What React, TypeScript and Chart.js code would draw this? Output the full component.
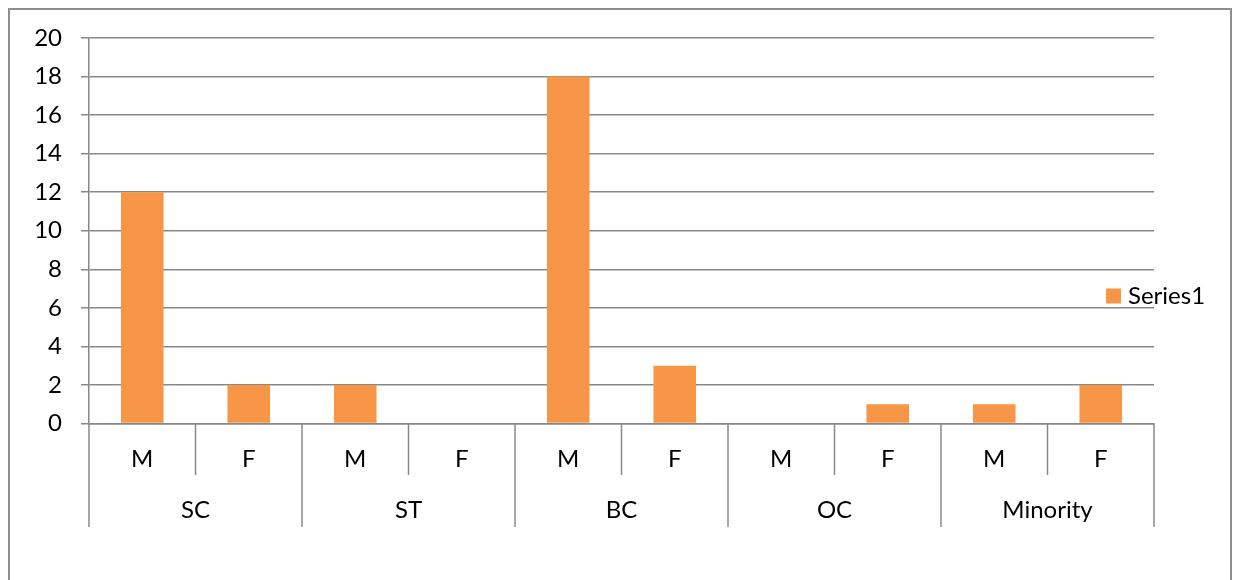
import React, { useEffect, useRef } from "react";
import { Chart, registerables } from "chart.js";

Chart.register(...registerables);

const groups = ["SC", "ST", "BC", "OC", "Minority"];
const subLabels = ["M", "F", "M", "F", "M", "F", "M", "F", "M", "F"];
const series1 = [12, 2, 2, 0, 18, 3, 0, 1, 1, 2];
const yTicks = [0, 2, 4, 6, 8, 10, 12, 14, 16, 18, 20];

const FONT = "Lato, 'Open Sans', sans-serif";
const FSIZE = 24;
const GRID = "#888888";
const BAR = "#F79646";
const W = 1220;
const H = 570;

const multiLevelPlugin = {
  id: "multiLevel",
  afterDraw(chart: any) {
    const x = chart.scales.x;
    const ctx = chart.ctx;
    const top = chart.chartArea.bottom;
    const half = (x.getPixelForValue(1) - x.getPixelForValue(0)) / 2;
    ctx.save();
    ctx.strokeStyle = GRID;
    ctx.lineWidth = 1.5;
    for (let i = 0; i <= subLabels.length; i++) {
      const px = x.getPixelForValue(i) - half;
      const bottom = i % 2 === 0 ? top + 103.5 : top + 51.5;
      ctx.beginPath();
      ctx.moveTo(px, top);
      ctx.lineTo(px, bottom);
      ctx.stroke();
    }
    ctx.fillStyle = "#000000";
    ctx.font = `${FSIZE}px ${FONT}`;
    ctx.textAlign = "center";
    ctx.textBaseline = "middle";
    groups.forEach((g, gi) => {
      const cx = (x.getPixelForValue(gi * 2) + x.getPixelForValue(gi * 2 + 1)) / 2;
      ctx.fillText(g, cx, top + 86.5);
    });
    const ds = chart.data.datasets[0];
    const lx = chart.width - 124;
    const ly = 286;
    ctx.fillStyle = ds.backgroundColor;
    ctx.fillRect(lx, ly - 7.5, 15, 15);
    ctx.fillStyle = "#000000";
    ctx.textAlign = "left";
    ctx.fillText(ds.label, lx + 22, ly);
    ctx.restore();
  },
};

export default function App() {
  const ref = useRef<HTMLCanvasElement | null>(null);
  useEffect(() => {
    if (!ref.current) return;
    const chart = new Chart(ref.current, {
      type: "bar",
      data: {
        labels: subLabels,
        datasets: [
          {
            label: "Series1",
            data: series1,
            backgroundColor: BAR,
            borderWidth: 0,
            categoryPercentage: 1,
            barPercentage: 0.4,
          },
        ],
      },
      options: {
        animation: false,
        responsive: false,
        maintainAspectRatio: false,
        layout: { padding: { top: 28, right: 76, left: 0, bottom: 0 } },
        plugins: { legend: { display: false }, tooltip: { enabled: false } },
        scales: {
          x: {
            type: "category",
            grid: { display: true, drawOnChartArea: false, drawTicks: false, color: GRID, lineWidth: 1.5 },
            border: { display: true, color: GRID, width: 1.5 },
            ticks: {
              color: "#000000",
              font: { family: FONT, size: FSIZE, lineHeight: 1.2 },
              padding: 21.1,
              maxRotation: 0,
              autoSkip: false,
            },
            afterFit(scale: any) {
              scale.height = 156.5;
              scale.paddingLeft = 0;
              scale.paddingRight = 0;
            },
          },
          y: {
            min: 0,
            max: 20,
            afterBuildTicks(scale: any) {
              scale.ticks = yTicks.map((v) => ({ value: v }));
            },
            grid: { color: GRID, lineWidth: 1.5, tickLength: 8 },
            border: { display: true, color: GRID, width: 1.5 },
            ticks: {
              color: "#000000",
              font: { family: FONT, size: FSIZE, lineHeight: 1.2 },
              padding: 19,
            },
            afterFit(scale: any) {
              scale.width = 79;
              scale.paddingTop = 0;
              scale.paddingBottom = 0;
            },
          },
        },
      },
      plugins: [multiLevelPlugin],
    });
    return () => chart.destroy();
  }, []);

  return (
    <div
      style={{
        position: "fixed",
        left: 8,
        top: 8,
        width: W,
        height: H,
        borderTop: "2px solid #8e8e8e",
        borderLeft: "2px solid #8e8e8e",
        borderRight: "2px solid #8e8e8e",
        background: "#ffffff",
      }}
    >
      <canvas ref={ref} width={W} height={H} style={{ display: "block", width: W, height: H }} />
    </div>
  );
}
